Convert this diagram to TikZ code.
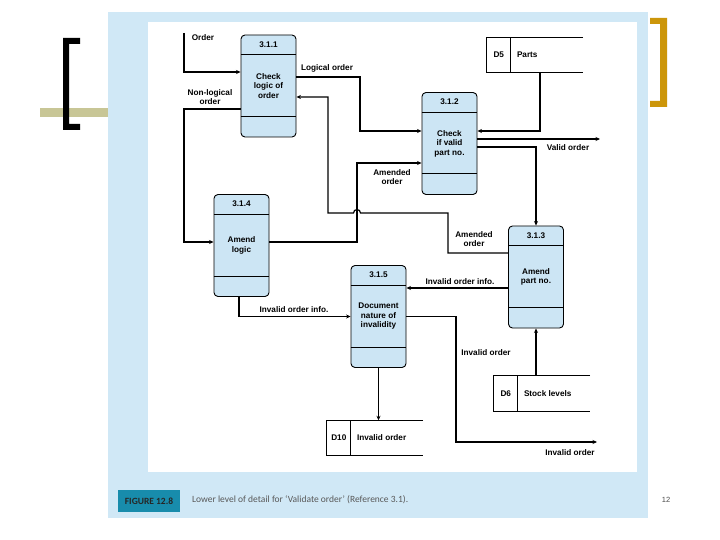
\documentclass[tikz,border=0pt]{standalone}
\usepackage{fontspec}
\setmainfont{Liberation Sans}
\newfontfamily\capfont{Carlito}
\usetikzlibrary{arrows.meta}
\definecolor{panelblue}{RGB}{208,232,246}
\definecolor{procblue}{RGB}{204,229,244}
\definecolor{figteal}{RGB}{24,140,172}
\definecolor{olivebar}{RGB}{200,198,150}
\definecolor{goldbar}{RGB}{204,150,10}

\begin{document}
\begin{tikzpicture}
    [x=1pt,y=-1pt,
     proc/.style={draw,line width=0.9pt,rounded corners=4pt,fill=procblue,minimum width=55pt,minimum height=102pt,
       inner sep=0pt,align=center,font=\fontsize{8.2}{9.5}\selectfont\bfseries},
     store/.style={minimum width=96pt,minimum height=35pt,inner sep=0pt},
     lbl/.style={font=\fontsize{8.2}{9.5}\selectfont\bfseries,align=center,inner sep=0pt},
     flow/.style={draw,line width=1.2pt,-{Stealth[length=4.5pt,width=4pt]}}]
    \useasboundingbox (0,0) rectangle (720,540);
    \fill[white] (0,0) rectangle (720,540);

    % slide frame
    \fill[panelblue] (108,12) rectangle (648,518);
    \fill[white] (148,22) rectangle (637,472);
    \fill[olivebar] (40,108) rectangle (108,117);
    \fill[black] (63,38) -- (80,38) -- (80,44) -- (69,44) -- (69,124) -- (80,124)
      -- (80,130) -- (63,130) -- cycle;
    \fill[goldbar] (667,18) -- (650,18) -- (650,24) -- (660,24) -- (660,101) -- (650,101)
      -- (650,107) -- (667,107) -- cycle;

    % processes
    \node[proc] (p311) at (268.5,86) {Check\\logic of\\order};
    \node[proc] (p312) at (449.5,143.5) {Check\\if valid\\part no.};
    \node[proc] (p313) at (536,277) {Amend\\part no.};
    \node[proc] (p314) at (241.5,245.5) {Amend\\logic};
    \node[proc] (p315) at (378.5,316.5) {Document\\nature of\\invalidity};
    \foreach \p/\n in {p311/3.1.1,p312/3.1.2,p313/3.1.3,p314/3.1.4,p315/3.1.5} {
      \draw[line width=0.9pt] ([yshift=-20pt]\p.north west) -- ([yshift=-20pt]\p.north east);
      \draw[line width=0.9pt] ([yshift=21pt]\p.south west) -- ([yshift=21pt]\p.south east);
      \node[lbl] (\p-id) at ([yshift=-10pt]\p.north) {\n};
    }

    % data stores
    \node[store] (d5) at (535,55) {};
    \node[store] (d6) at (542,393.5) {};
    \node[store] (d10) at (375,438) {};
    \foreach \s/\i/\n in {d5/D5/Parts,d6/D6/Stock levels,d10/D10/Invalid order} {
      \draw[line width=0.9pt] (\s.north east) -- (\s.north west) -- (\s.south west) -- (\s.south east);
      \draw[line width=0.9pt] ([xshift=24pt]\s.north west) -- ([xshift=24pt]\s.south west);
      \node[lbl] (\s-id) at ([xshift=12pt]\s.west) {\i};
      \node[lbl,anchor=west] (\s-name) at ([xshift=30pt]\s.west) {\n};
    }

    % flow labels
    \node[lbl] (lorder) at (203,38) {Order};
    \node[lbl] (llogical) at (327,68) {Logical order};
    \node[lbl] (lnonlog) at (210,97) {Non-logical\\order};
    \node[lbl] (lvalid) at (568,148) {Valid order};
    \node[lbl] (lamend1) at (392,177) {Amended\\order};
    \node[lbl] (lamend2) at (474,239) {Amended\\order};
    \node[lbl] (linfo1) at (460,282) {Invalid order info.};
    \node[lbl] (linfo2) at (294,310) {Invalid order info.};
    \node[lbl] (linv1) at (486,353) {Invalid order};
    \node[lbl] (linv2) at (570,453) {Invalid order};

    \coordinate (order) at (184,33);
    \coordinate (validout) at (600,139);
    \coordinate (invout) at (597,442);

    % flows
    \draw[flow] (order) |- ([yshift=14pt]p311.west);
    \draw[flow] ([yshift=9pt]p311.east) -| (360,131) -- ([yshift=12.5pt]p312.west);
    \draw[flow] ([yshift=-23pt]p311.west) -| (184,242) -- ([yshift=3.5pt]p314.west);
    \draw[flow] ([xshift=5pt]d5.south) |- ([yshift=12.5pt]p312.east);
    \draw[flow] ([yshift=4.5pt]p312.east) -- (validout);
    \draw[flow] ([yshift=-3.5pt]p312.east) -| (p313.north);
    \draw[flow] ([yshift=24pt]p313.west) -| (448,213) -- (360.5,213)
      arc[start angle=0,end angle=-180,radius=3.5] -- (328,213) |- ([yshift=-11pt]p311.east);
    \draw[flow] ([yshift=3.5pt]p314.east) -| (357,163) -- ([yshift=-19.5pt]p312.west);
    \draw[flow] ([yshift=-11pt]p313.west) -- ([yshift=28.5pt]p315.east);
    \draw[flow] ([xshift=-2.5pt]p314.south) |- (p315.west);
    \draw[flow] (p315.south) -- (p315.south |- d10.north);
    \draw[flow] (p315.east) -| (456,442) -- (invout);
    \draw[flow] (p313.south |- d6.north) -- (p313.south);

    % caption
    \node[fill=figteal,minimum width=62pt,minimum height=22pt,inner sep=0pt,
      font=\capfont\fontsize{9.5}{11}\selectfont\bfseries,text=black!85] (fig) at (149,501) {FIGURE 12.8};
    \node[anchor=west,inner sep=0pt,font=\capfont\fontsize{9.5}{11}\selectfont,text=black!65] (cap)
      at (192,500) {Lower level of detail for ‘Validate order’ (Reference 3.1).};
    \node[inner sep=0pt,font=\fontsize{7.5}{8}\selectfont,text=black!70] (pg) at (666,500) {12};
  \end{tikzpicture}
\end{document}
